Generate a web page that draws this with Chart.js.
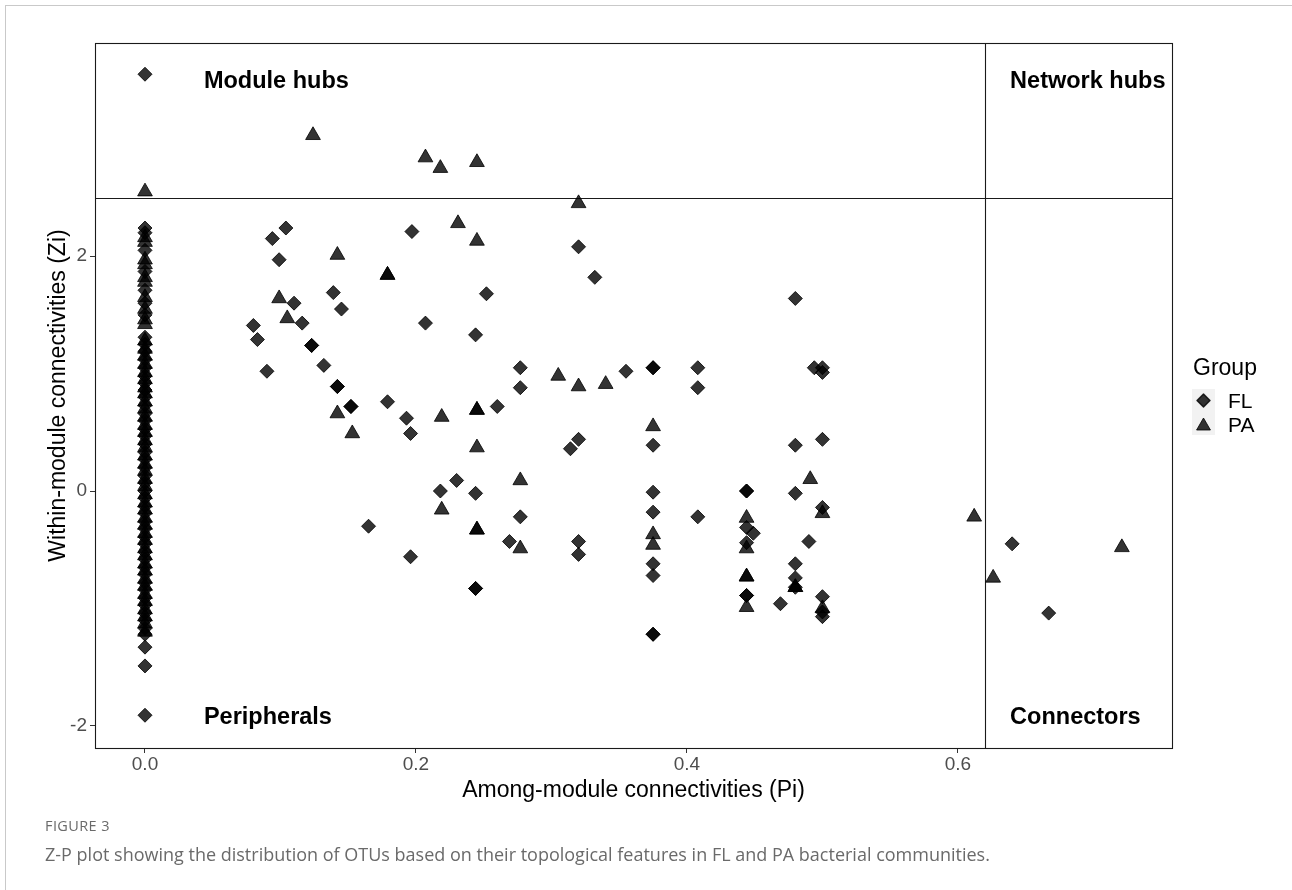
<!DOCTYPE html>
<html>
<head>
<meta charset="utf-8">
<title>Z-P plot</title>
<script src="https://cdn.jsdelivr.net/npm/chart.js@4.4.1/dist/chart.umd.min.js"></script>
<style>
  html, body { margin: 0; padding: 0; background: #fff; }
  body { width: 1292px; height: 890px; position: relative; overflow: hidden; }
  #frame { position: absolute; left: 5px; top: 5px; width: 1287px; height: 885px; z-index: 2; pointer-events: none;
           border-left: 1px solid #c9c9c9; border-top: 1px solid #c9c9c9; box-sizing: border-box; }
  #wrap { position: absolute; left: 0; top: 0; width: 1292px; height: 890px; z-index: 1; }
  .fig-label { position: absolute; left: 45px; top: 816px; font-family: "Open Sans", sans-serif; z-index: 3;
               font-size: 14.5px; color: #6a6a6a; letter-spacing: 0.4px; }
  .fig-caption { position: absolute; left: 45px; top: 842px; font-family: "Open Sans", sans-serif; z-index: 3;
                 font-size: 18px; color: #6a6a6a; white-space: nowrap; }
</style>
</head>
<body>
<div id="frame"></div>
<div id="wrap"><canvas id="zp" width="1292" height="890"></canvas></div>
<div class="fig-label">FIGURE 3</div>
<div class="fig-caption">Z-P plot showing the distribution of OTUs based on their topological features in FL and PA bacterial communities.</div>
<script>
// Axis ticks and role thresholds
const xTickValues = [0, 0.2, 0.4, 0.6];
const yTickValues = [-2, 0, 2];
const piThreshold = 0.62;
const ziThreshold = 2.5;
const groupNames = ['FL', 'PA'];
const roleNames = ['Module hubs', 'Network hubs', 'Peripherals', 'Connectors'];

// OTUs with Pi = 0 (no links outside their own module)
const flColumnZi = [3.55, 2.24, 2.20, 2.05, 1.87, 1.71, 1.60, 1.50, 1.31, 1.25, 1.19, 1.12, 1.05,
  0.98, 0.92, 0.86, 0.80, 0.73, 0.66, 0.60, 0.53, 0.47, 0.40, 0.33, 0.27, 0.20, 0.13, 0.07, 0.00,
  -0.06, -0.13, -0.19, -0.26, -0.32, -0.39, -0.45, -0.52, -0.58, -0.65, -0.71, -0.78, -0.84,
  -0.91, -0.97, -1.04, -1.10, -1.17, -1.22, -1.33, -1.49, -1.91];
const paColumnZi = [2.55, 2.16, 2.12, 1.97, 1.93, 1.82, 1.78, 1.65, 1.55, 1.46, 1.42, 1.28, 1.21,
  1.15, 1.08, 1.01, 0.95, 0.88, 0.83, 0.76, 0.70, 0.63, 0.56, 0.50, 0.43, 0.37, 0.30, 0.23, 0.17,
  0.10, 0.04, -0.03, -0.10, -0.16, -0.23, -0.29, -0.36, -0.42, -0.49, -0.55, -0.62, -0.68, -0.75,
  -0.81, -0.88, -0.94, -1.01, -1.07, -1.13, -1.20];

// FL OTUs with Pi > 0
const flPi = [0.104, 0.094, 0.099, 0.110, 0.139, 0.145, 0.080, 0.116, 0.083, 0.123,
  0.123, 0.132, 0.090, 0.142, 0.142, 0.152, 0.152, 0.179, 0.197, 0.320,
  0.332, 0.252, 0.207, 0.244, 0.277, 0.277, 0.355, 0.375, 0.375, 0.193,
  0.196, 0.260, 0.320, 0.314, 0.375, 0.230, 0.218, 0.244, 0.375, 0.277,
  0.375, 0.269, 0.320, 0.320, 0.375, 0.375, 0.196, 0.244, 0.244, 0.375,
  0.375, 0.165, 0.480, 0.408, 0.408, 0.494, 0.500, 0.500, 0.500, 0.480,
  0.444, 0.444, 0.480, 0.500, 0.408, 0.444, 0.449, 0.444, 0.490, 0.480,
  0.480, 0.480, 0.444, 0.444, 0.469, 0.500, 0.500, 0.500, 0.640, 0.667];
const flZi = [2.24, 2.15, 1.97, 1.60, 1.69, 1.55, 1.41, 1.43, 1.29, 1.24,
  1.24, 1.07, 1.02, 0.89, 0.89, 0.72, 0.72, 0.76, 2.21, 2.08,
  1.82, 1.68, 1.43, 1.33, 1.05, 0.88, 1.02, 1.05, 1.05, 0.62,
  0.49, 0.72, 0.44, 0.36, 0.39, 0.09, 0.00, -0.02, -0.01, -0.22,
  -0.18, -0.43, -0.43, -0.54, -0.62, -0.72, -0.56, -0.83, -0.83, -1.22,
  -1.22, -0.30, 1.64, 1.05, 0.88, 1.05, 1.05, 1.01, 0.44, 0.39,
  0.00, 0.00, -0.02, -0.14, -0.22, -0.31, -0.36, -0.44, -0.43, -0.62,
  -0.74, -0.82, -0.89, -0.89, -0.96, -0.90, -1.03, -1.07, -0.45, -1.04];

// PA OTUs with Pi > 0
const paPi = [0.124, 0.207, 0.218, 0.245, 0.320, 0.231, 0.245, 0.142, 0.179, 0.179,
  0.099, 0.105, 0.142, 0.153, 0.305, 0.320, 0.340, 0.219, 0.245, 0.245,
  0.245, 0.375, 0.277, 0.219, 0.245, 0.245, 0.277, 0.375, 0.375, 0.491,
  0.500, 0.444, 0.444, 0.444, 0.444, 0.480, 0.480, 0.444, 0.500, 0.612,
  0.626, 0.721];
const paZi = [3.03, 2.84, 2.75, 2.80, 2.45, 2.28, 2.13, 2.01, 1.84, 1.84,
  1.64, 1.47, 0.66, 0.49, 0.98, 0.89, 0.91, 0.63, 0.69, 0.69,
  0.37, 0.55, 0.09, -0.16, -0.33, -0.33, -0.49, -0.37, -0.46, 0.10,
  -0.19, -0.23, -0.49, -0.73, -0.73, -0.82, -0.82, -0.99, -1.00, -0.22,
  -0.74, -0.48];

function points(columnZi, pi, zi) {
  return columnZi.map(z => ({ x: 0, y: z })).concat(pi.map((p, i) => ({ x: p, y: zi[i] })));
}

const FONT = '"Liberation Sans", Arial, sans-serif';
const MARK = 'rgba(0,0,0,0.8)';

function diamond(ctx, x, y, r) {
  ctx.beginPath();
  ctx.moveTo(x - r, y); ctx.lineTo(x, y - r); ctx.lineTo(x + r, y); ctx.lineTo(x, y + r);
  ctx.closePath(); ctx.fill(); ctx.stroke();
}
function triangle(ctx, x, y, r) {
  const h = Math.sin(Math.PI / 3) * r;
  ctx.beginPath();
  ctx.moveTo(x, y - r); ctx.lineTo(x + h, y + r / 2); ctx.lineTo(x - h, y + r / 2);
  ctx.closePath(); ctx.fill(); ctx.stroke();
}

// Role dividers, quadrant names, panel border and the group key
const zpDecor = {
  id: 'zpDecor',
  beforeDatasetsDraw(chart) {
    const { ctx, chartArea: a, scales: { x, y } } = chart;
    ctx.save();
    ctx.strokeStyle = '#1a1a1a';
    ctx.lineWidth = 1.1;
    const vx = Math.round(x.getPixelForValue(piThreshold)) + 0.5;
    const hy = Math.round(y.getPixelForValue(ziThreshold)) + 0.5;
    ctx.beginPath();
    ctx.moveTo(vx, a.top); ctx.lineTo(vx, a.bottom);
    ctx.moveTo(a.left, hy); ctx.lineTo(a.right, hy);
    ctx.stroke();

    ctx.fillStyle = '#000';
    ctx.font = 'bold 23.5px ' + FONT;
    ctx.textAlign = 'left';
    ctx.textBaseline = 'middle';
    const leftX = x.getPixelForValue(0.0435);
    const rightX = x.getPixelForValue(0.6385);
    const topY = y.getPixelForValue(3.49);
    const botY = y.getPixelForValue(-1.93);
    ctx.fillText(roleNames[0], leftX, topY);
    ctx.fillText(roleNames[1], rightX, topY);
    ctx.fillText(roleNames[2], leftX, botY);
    ctx.fillText(roleNames[3], rightX, botY);
    ctx.restore();
  },
  afterDraw(chart) {
    const { ctx, chartArea: a } = chart;
    ctx.save();
    ctx.strokeStyle = '#1a1a1a';
    ctx.lineWidth = 1.1;
    ctx.strokeRect(Math.round(a.left) + 0.5, Math.round(a.top) + 0.5,
                   Math.round(a.right - a.left), Math.round(a.bottom - a.top));

    // legend
    const lx = a.right + 20;
    ctx.fillStyle = '#000';
    ctx.font = '23px ' + FONT;
    ctx.textAlign = 'left';
    ctx.textBaseline = 'middle';
    ctx.fillText('Group', lx + 1, 369);
    ctx.fillStyle = '#f2f2f2';
    ctx.fillRect(lx, 389, 23, 23);
    ctx.fillRect(lx, 412, 23, 23);
    ctx.fillStyle = MARK;
    ctx.strokeStyle = MARK;
    ctx.lineWidth = 1.5;
    ctx.lineJoin = 'round';
    diamond(ctx, lx + 11.5, 400.5, 6.5);
    ctx.lineWidth = 1;
    triangle(ctx, lx + 11.5, 426, 8);
    ctx.fillStyle = '#000';
    ctx.font = '21px ' + FONT;
    ctx.fillText(groupNames[0], lx + 36, 402);
    ctx.fillText(groupNames[1], lx + 36, 426);
    ctx.restore();
  }
};

const bg = {
  id: 'bg',
  beforeDraw(chart) {
    const ctx = chart.ctx;
    ctx.save(); ctx.fillStyle = '#fff';
    ctx.fillRect(0, 0, chart.width, chart.height); ctx.restore();
  }
};

new Chart(document.getElementById('zp'), {
  type: 'scatter',
  data: {
    datasets: [
      { label: groupNames[0], data: points(flColumnZi, flPi, flZi), pointStyle: 'rectRot',
        pointRadius: 7, backgroundColor: MARK, borderColor: MARK, borderWidth: 1 },
      { label: groupNames[1], data: points(paColumnZi, paPi, paZi), pointStyle: 'triangle',
        pointRadius: 8.5, backgroundColor: MARK, borderColor: MARK, borderWidth: 1 }
    ]
  },
  options: {
    responsive: false,
    animation: false,
    events: [],
    layout: { padding: { left: 45, top: 43, right: 120, bottom: 86 } },
    plugins: { legend: { display: false }, tooltip: { enabled: false } },
    scales: {
      x: {
        type: 'linear', min: -0.0369, max: 0.758,
        afterBuildTicks: s => { s.ticks = xTickValues.map(v => ({ value: v })); },
        afterFit: s => { s.height = 56; },
        ticks: { callback: v => v.toFixed(1), color: '#4d4d4d', font: { family: FONT, size: 19 }, padding: 0, maxRotation: 0 },
        grid: { drawOnChartArea: false, drawTicks: true, tickLength: 5, tickColor: '#333', tickWidth: 1 },
        border: { display: false },
        title: { display: true, text: 'Among-module connectivities (Pi)', color: '#000',
                 font: { family: FONT, size: 23 }, padding: { top: 0, bottom: 0 } }
      },
      y: {
        type: 'linear', min: -2.189, max: 3.816,
        afterBuildTicks: s => { s.ticks = yTickValues.map(v => ({ value: v })); },
        afterFit: s => { s.width = 50; },
        ticks: { callback: v => String(v), color: '#4d4d4d', font: { family: FONT, size: 19 }, padding: 3 },
        grid: { drawOnChartArea: false, drawTicks: true, tickLength: 5, tickColor: '#333', tickWidth: 1 },
        border: { display: false },
        title: { display: true, text: 'Within-module connectivities (Zi)', color: '#000',
                 font: { family: FONT, size: 23 }, padding: { top: 0, bottom: 0 } }
      }
    }
  },
  plugins: [bg, zpDecor]
});
</script>
</body>
</html>
